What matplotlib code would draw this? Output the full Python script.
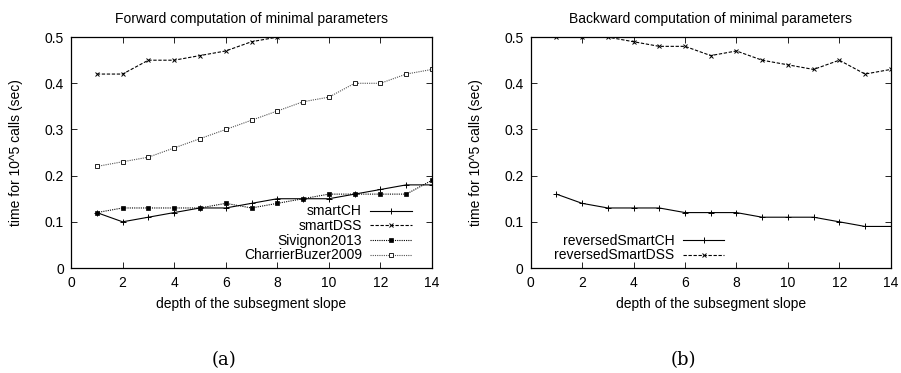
import matplotlib
matplotlib.use("Agg")
import matplotlib.pyplot as plt

plt.rcParams['font.family'] = ['Liberation Sans', 'DejaVu Sans']

depth = [1, 2, 3, 4, 5, 6, 7, 8, 9, 10, 11, 12, 13, 14]

# forward computation
smart_ch = [0.12, 0.10, 0.11, 0.12, 0.13, 0.13, 0.14, 0.15, 0.15, 0.15, 0.16, 0.17, 0.18, 0.18]
smart_dss = [0.42, 0.42, 0.45, 0.45, 0.46, 0.47, 0.49, 0.50]
sivignon = [0.12, 0.13, 0.13, 0.13, 0.13, 0.14, 0.13, 0.14, 0.15, 0.16, 0.16, 0.16, 0.16, 0.19]
charrier = [0.22, 0.23, 0.24, 0.26, 0.28, 0.30, 0.32, 0.34, 0.36, 0.37, 0.40, 0.40, 0.42, 0.43]

# backward computation
rev_ch = [0.16, 0.14, 0.13, 0.13, 0.13, 0.12, 0.12, 0.12, 0.11, 0.11, 0.11, 0.10, 0.09, 0.09]
rev_dss = [0.50, 0.50, 0.50, 0.49, 0.48, 0.48, 0.46, 0.47, 0.45, 0.44, 0.43, 0.45, 0.42, 0.43]

xticks = [0, 2, 4, 6, 8, 10, 12, 14]
yticks = [0, 0.1, 0.2, 0.3, 0.4, 0.5]
ytick_labels = ['0', '0.1', '0.2', '0.3', '0.4', '0.5']

fig = plt.figure(figsize=(9.01, 3.73), dpi=100)
ax1 = fig.add_axes([0.0788, 0.2815, 0.4007, 0.619])
ax2 = fig.add_axes([0.589, 0.2815, 0.3996, 0.619])


def style(ax, title):
    ax.set_xlim(0, 14)
    ax.set_ylim(0, 0.5)
    ax.set_xticks(xticks)
    ax.set_yticks(yticks)
    ax.set_yticklabels(ytick_labels)
    ax.tick_params(direction='in', top=True, right=True, length=4, width=0.6,
                   labelsize=10)
    ax.tick_params(axis='x', pad=6)
    ax.tick_params(axis='y', pad=5)
    for s in ax.spines.values():
        s.set_linewidth(0.9)
    ax.set_title(title, fontsize=10, pad=10)
    ax.set_xlabel('depth of the subsegment slope', fontsize=10, labelpad=5)
    ax.set_ylabel('time for 10^5 calls (sec)', fontsize=10)
    ax.yaxis.set_label_coords(-48 / 361, 0.5)


lw = 0.8
ax1.plot(depth, smart_ch, color='black', lw=lw, ls='-', marker='+', ms=4, mew=0.7, label='smartCH')
ax1.plot(depth[:len(smart_dss)], smart_dss, color='black', lw=lw, ls=(0, (3, 1.5)), marker='x', ms=3.5, mew=0.7, label='smartDSS')
ax1.plot(depth, sivignon, color='black', lw=lw, ls=(0, (1, 1)), marker='s', ms=2.5, mew=0.5, label='Sivignon2013')
ax1.plot(depth, charrier, color='#555555', lw=lw, ls=(0, (1, 1)), marker='s', ms=3.5, mfc='white', mec='black', mew=0.6, label='CharrierBuzer2009')
style(ax1, 'Forward computation of minimal parameters')
ax1.legend(loc='lower right', markerfirst=False, frameon=False, fontsize=10,
           handlelength=3.0, handletextpad=0.6, labelspacing=0.05,
           borderaxespad=0.2, borderpad=0.2, bbox_to_anchor=(0.96, 0.0))

ax2.plot(depth, rev_ch, color='black', lw=lw, ls='-', marker='+', ms=4, mew=0.7, label='reversedSmartCH')
ax2.plot(depth, rev_dss, color='black', lw=lw, ls=(0, (3, 1.5)), marker='x', ms=3.5, mew=0.7, label='reversedSmartDSS')
style(ax2, 'Backward computation of minimal parameters')
ax2.legend(loc='lower left', markerfirst=False, frameon=False, fontsize=10,
           handlelength=3.0, handletextpad=0.6, labelspacing=0.05,
           borderaxespad=0.2, borderpad=0.2, bbox_to_anchor=(0.05, 0.0))

fig.text(0.249, 0.035, '(a)', fontsize=13, family='DejaVu Serif', ha='center', va='center')
fig.text(0.759, 0.035, '(b)', fontsize=13, family='DejaVu Serif', ha='center', va='center')

fig.savefig('out.png', dpi=100)
